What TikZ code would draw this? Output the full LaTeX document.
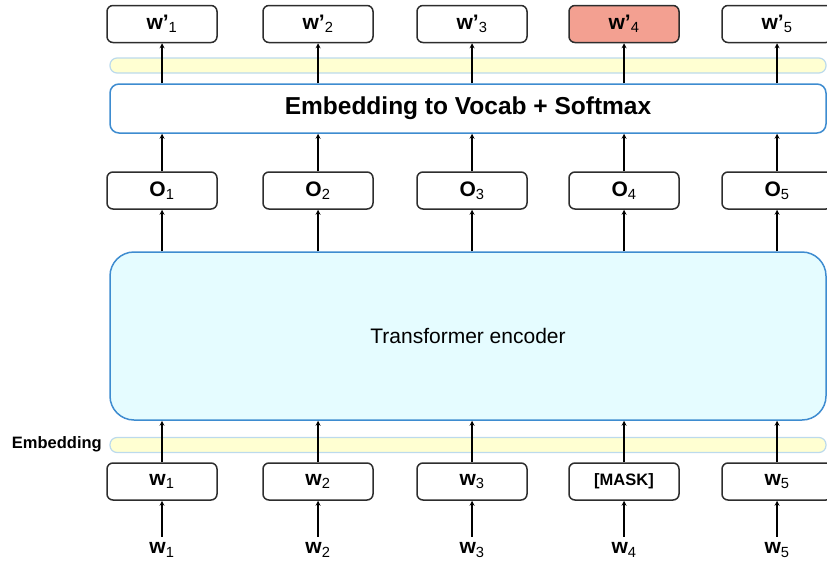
\documentclass[tikz,border=0pt]{standalone}
\usepackage{fontspec}
\setmainfont{Liberation Sans}
\usetikzlibrary{positioning, calc}

\definecolor{boxline}{RGB}{45,45,45}
\definecolor{encblue}{RGB}{62,140,208}
\definecolor{encfill}{RGB}{229,252,255}
\definecolor{bandfill}{RGB}{255,255,210}
\definecolor{bandline}{RGB}{188,218,236}
\definecolor{predred}{RGB}{243,160,145}

\begin{document}
\begin{tikzpicture}[x=1pt, y=-1pt,
            tok/.style={rectangle, rounded corners=6pt, draw=boxline, fill=white, line width=1.5pt, minimum width=110pt, minimum height=37pt, inner sep=0pt, font=\fontsize{21}{24}\selectfont\bfseries},
            wide/.style={rectangle, draw=encblue, line width=1.5pt, minimum width=716pt, inner sep=0pt},
            band/.style={rectangle, rounded corners=7pt, draw=bandline, fill=bandfill, line width=1.2pt, minimum width=716pt, minimum height=15pt, inner sep=0pt},
            inp/.style={font=\fontsize{21}{24}\selectfont\bfseries, inner sep=0pt},
            up/.style={->, >=stealth, black, line width=1.2pt}
        ]
            \useasboundingbox (0,0) rectangle (827,562);

            % --- wide layers ---
            \node[band] (topband) at (468,65.5) {};
            \node[wide, rounded corners=9pt, fill=white, minimum height=49pt, font=\fontsize{24.5}{28}\selectfont\bfseries] (vocab) at (468,108.5) {Embedding to Vocab + Softmax};
            \node[wide, rounded corners=24pt, fill=encfill, minimum height=168pt, font=\fontsize{21}{24}\selectfont] (enc) at (468,336) {Transformer encoder};
            \node[band] (embband) at (468,445) {};
            \node[font=\fontsize{16.5}{20}\selectfont\bfseries, anchor=east, inner sep=0pt] (emblabel) at (102,444) {Embedding};

            % --- predicted tokens ---
            \node[tok] (p1) at (162,24) {w’\textsubscript{\mdseries 1}};
            \node[tok] (p2) at (318,24) {w’\textsubscript{\mdseries 2}};
            \node[tok] (p3) at (472,24) {w’\textsubscript{\mdseries 3}};
            \node[tok, fill=predred] (p4) at (624,24) {w’\textsubscript{\mdseries 4}};
            \node[tok] (p5) at (777,24) {w’\textsubscript{\mdseries 5}};

            % --- encoder outputs ---
            \node[tok] (o1) at (162,190.5) {O\textsubscript{\mdseries 1}};
            \node[tok] (o2) at (318,190.5) {O\textsubscript{\mdseries 2}};
            \node[tok] (o3) at (472,190.5) {O\textsubscript{\mdseries 3}};
            \node[tok] (o4) at (624,190.5) {O\textsubscript{\mdseries 4}};
            \node[tok] (o5) at (777,190.5) {O\textsubscript{\mdseries 5}};

            % --- masked input tokens ---
            \node[tok] (t1) at (162,481.5) {w\textsubscript{\mdseries 1}};
            \node[tok] (t2) at (318,481.5) {w\textsubscript{\mdseries 2}};
            \node[tok] (t3) at (472,481.5) {w\textsubscript{\mdseries 3}};
            \node[tok, font=\fontsize{16.5}{20}\selectfont\bfseries] (t4) at (624,481.5) {[MASK]};
            \node[tok] (t5) at (777,481.5) {w\textsubscript{\mdseries 5}};

            % --- raw words ---
            \node[inp] (in1) at (162,550) {w\textsubscript{\mdseries 1}};
            \node[inp] (in2) at (318,550) {w\textsubscript{\mdseries 2}};
            \node[inp] (in3) at (472,550) {w\textsubscript{\mdseries 3}};
            \node[inp] (in4) at (624,550) {w\textsubscript{\mdseries 4}};
            \node[inp] (in5) at (777,550) {w\textsubscript{\mdseries 5}};

            % --- arrows, bottom to top ---
            \draw[up] ($(in1.north)+(0,-6)$) -- (t1.south);
            \draw[up] ($(in2.north)+(0,-6)$) -- (t2.south);
            \draw[up] ($(in3.north)+(0,-6)$) -- (t3.south);
            \draw[up] ($(in4.north)+(0,-6)$) -- (t4.south);
            \draw[up] ($(in5.north)+(0,-6)$) -- (t5.south);

            \draw[up] (t1.north) -- (t1.north |- enc.south);
            \draw[up] (t2.north) -- (t2.north |- enc.south);
            \draw[up] (t3.north) -- (t3.north |- enc.south);
            \draw[up] (t4.north) -- (t4.north |- enc.south);
            \draw[up] (t5.north) -- (t5.north |- enc.south);

            \draw[up] (o1.south |- enc.north) -- (o1.south);
            \draw[up] (o2.south |- enc.north) -- (o2.south);
            \draw[up] (o3.south |- enc.north) -- (o3.south);
            \draw[up] (o4.south |- enc.north) -- (o4.south);
            \draw[up] (o5.south |- enc.north) -- (o5.south);

            \draw[up] (o1.north) -- (o1.north |- vocab.south);
            \draw[up] (o2.north) -- (o2.north |- vocab.south);
            \draw[up] (o3.north) -- (o3.north |- vocab.south);
            \draw[up] (o4.north) -- (o4.north |- vocab.south);
            \draw[up] (o5.north) -- (o5.north |- vocab.south);

            \draw[up] (p1.south |- vocab.north) -- (p1.south);
            \draw[up] (p2.south |- vocab.north) -- (p2.south);
            \draw[up] (p3.south |- vocab.north) -- (p3.south);
            \draw[up] (p4.south |- vocab.north) -- (p4.south);
            \draw[up] (p5.south |- vocab.north) -- (p5.south);
        \end{tikzpicture}
\end{document}
